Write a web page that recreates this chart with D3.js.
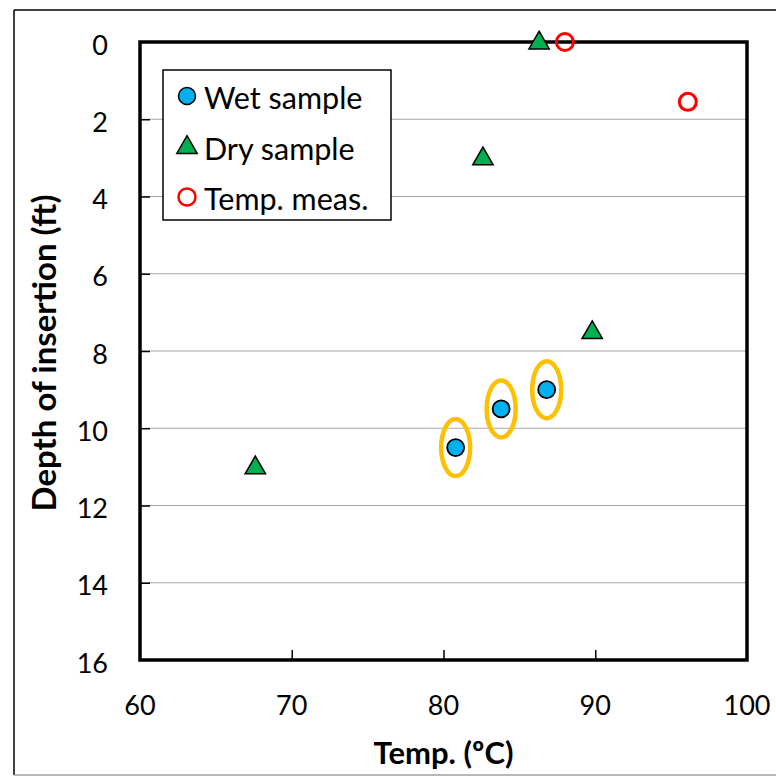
<!DOCTYPE html>
<html>
<head>
<meta charset="utf-8">
<script src="https://cdn.jsdelivr.net/npm/d3@7"></script>
<style>
  html, body { margin: 0; padding: 0; background: #fff; }
  svg { display: block; }
  text { font-family: Lato, "Open Sans", sans-serif; fill: #000; }
</style>
</head>
<body>
<svg id="chart" width="776" height="776"></svg>
<script>
// Wet samples (circled), dry samples, and field temperature measurements
const wetTemp = [80.8, 83.8, 86.8];
const wetDepth = [10.5, 9.5, 9.0];
const dryTemp = [86.3, 82.6, 89.8, 67.6];
const dryDepth = [0, 3, 7.5, 11];
const measTemp = [88.0, 96.1];
const measDepth = [0, 1.55];

const xTicks = [60, 70, 80, 90, 100];
const yTicks = [0, 2, 4, 6, 8, 10, 12, 14, 16];
const legendLabels = ["Wet sample", "Dry sample", "Temp. meas."];
const xTitle = "Temp. (ºC)";
const yTitle = "Depth of insertion (ft)";

const svg = d3.select("#chart");
const W = 776, H = 776;
const plot = { left: 140, right: 747, top: 42, bottom: 660 };

const x = d3.scaleLinear().domain([60, 100]).range([plot.left, plot.right]);
const y = d3.scaleLinear().domain([0, 16]).range([plot.top, plot.bottom]);

const zip = (a, b) => a.map((v, i) => ({ t: v, d: b[i] }));
const wet = zip(wetTemp, wetDepth);
const dry = zip(dryTemp, dryDepth);
const meas = zip(measTemp, measDepth);

svg.append("rect").attr("width", W).attr("height", H).attr("fill", "#fff");

// outer frame
svg.append("line").attr("x1", 14).attr("x2", W).attr("y1", 10).attr("y2", 10)
  .attr("stroke", "#000").attr("stroke-width", 1.5);
svg.append("line").attr("x1", 14).attr("x2", 14).attr("y1", 10).attr("y2", 775)
  .attr("stroke", "#000").attr("stroke-width", 1.5);
svg.append("line").attr("x1", 14).attr("x2", W).attr("y1", 775).attr("y2", 775)
  .attr("stroke", "#a0a0a0").attr("stroke-width", 1.5);

// horizontal gridlines
svg.append("g").selectAll("line")
  .data(yTicks.filter(v => v > 0 && v < 16))
  .join("line")
  .attr("x1", plot.left).attr("x2", plot.right)
  .attr("y1", d => y(d)).attr("y2", d => y(d))
  .attr("stroke", "#a6a6a6").attr("stroke-width", 1.2);

// inward tick marks
const yAxis = d3.axisLeft(y).tickValues(yTicks.filter(v => v > 0 && v < 16))
  .tickSize(-10).tickFormat("");
svg.append("g").attr("transform", `translate(${plot.left},0)`).call(yAxis)
  .call(g => g.select(".domain").remove())
  .call(g => g.selectAll(".tick line").attr("stroke", "#000").attr("stroke-width", 1.5));
const xAxis = d3.axisBottom(x).tickValues(xTicks.filter(v => v > 60 && v < 100))
  .tickSize(-10).tickFormat("");
svg.append("g").attr("transform", `translate(0,${plot.bottom})`).call(xAxis)
  .call(g => g.select(".domain").remove())
  .call(g => g.selectAll(".tick line").attr("stroke", "#000").attr("stroke-width", 1.5));

// plot border
svg.append("rect")
  .attr("x", plot.left).attr("y", plot.top)
  .attr("width", plot.right - plot.left).attr("height", plot.bottom - plot.top)
  .attr("fill", "none").attr("stroke", "#000").attr("stroke-width", 3.5);

// tick labels
svg.append("g").selectAll("text").data(yTicks).join("text")
  .attr("x", 108).attr("y", d => y(d) + 2)
  .attr("text-anchor", "end").attr("dominant-baseline", "central")
  .attr("font-size", 27).text(d => d);
svg.append("g").selectAll("text").data(xTicks).join("text")
  .attr("x", d => x(d)).attr("y", 704)
  .attr("text-anchor", "middle").attr("dominant-baseline", "central")
  .attr("font-size", 27).text(d => d);

// axis titles
svg.append("text")
  .attr("x", (plot.left + plot.right) / 2).attr("y", 752)
  .attr("text-anchor", "middle").attr("dominant-baseline", "central")
  .attr("font-size", 31).attr("font-weight", "bold").text(xTitle);
svg.append("text")
  .attr("transform", `translate(43,${(plot.top + plot.bottom) / 2 + 2}) rotate(-90)`)
  .attr("text-anchor", "middle").attr("dominant-baseline", "central")
  .attr("font-size", 33).attr("font-weight", "bold").text(yTitle);

// marker shapes
const tri = d3.symbol().type(d3.symbolTriangle).size(180);
function triPath(g) {
  g.attr("d", tri).attr("fill", "#00b050").attr("stroke", "#000").attr("stroke-width", 1.5);
}

// highlight rings around wet samples
svg.append("g").selectAll("ellipse").data(wet).join("ellipse")
  .attr("cx", d => x(d.t)).attr("cy", d => y(d.d))
  .attr("rx", 14.5).attr("ry", 28.5)
  .attr("fill", "none").attr("stroke", "#ffc000").attr("stroke-width", 4.5);

svg.append("g").selectAll("circle").data(wet).join("circle")
  .attr("cx", d => x(d.t)).attr("cy", d => y(d.d)).attr("r", 8.5)
  .attr("fill", "#00b0f0").attr("stroke", "#000").attr("stroke-width", 1.8);

svg.append("g").selectAll("path").data(dry).join("path")
  .attr("transform", d => `translate(${x(d.t)},${y(d.d) + 1})`)
  .call(triPath);

svg.append("g").selectAll("circle").data(meas).join("circle")
  .attr("cx", d => x(d.t)).attr("cy", d => y(d.d)).attr("r", 8.5)
  .attr("fill", "none").attr("stroke", "#ff0000").attr("stroke-width", 3);

// legend
const lg = svg.append("g");
lg.append("rect").attr("x", 163).attr("y", 70).attr("width", 228).attr("height", 150)
  .attr("fill", "#fff").attr("stroke", "#000").attr("stroke-width", 1.5);
const rowY = [96, 146, 197];
const ly = d3.scalePoint().domain(legendLabels).range([rowY[0], rowY[2]]);
lg.append("circle").attr("cx", 187).attr("cy", ly(legendLabels[0])).attr("r", 8.5)
  .attr("fill", "#00b0f0").attr("stroke", "#000").attr("stroke-width", 1.5);
lg.append("path").attr("transform", `translate(187,${ly(legendLabels[1]) + 1})`).call(triPath);
lg.append("circle").attr("cx", 187).attr("cy", ly(legendLabels[2])).attr("r", 8.5)
  .attr("fill", "none").attr("stroke", "#ff0000").attr("stroke-width", 2.5);
lg.selectAll("text").data(legendLabels).join("text")
  .attr("x", 204).attr("y", d => ly(d) + 1)
  .attr("dominant-baseline", "central")
  .attr("font-size", 30.5).text(d => d);
</script>
</body>
</html>
